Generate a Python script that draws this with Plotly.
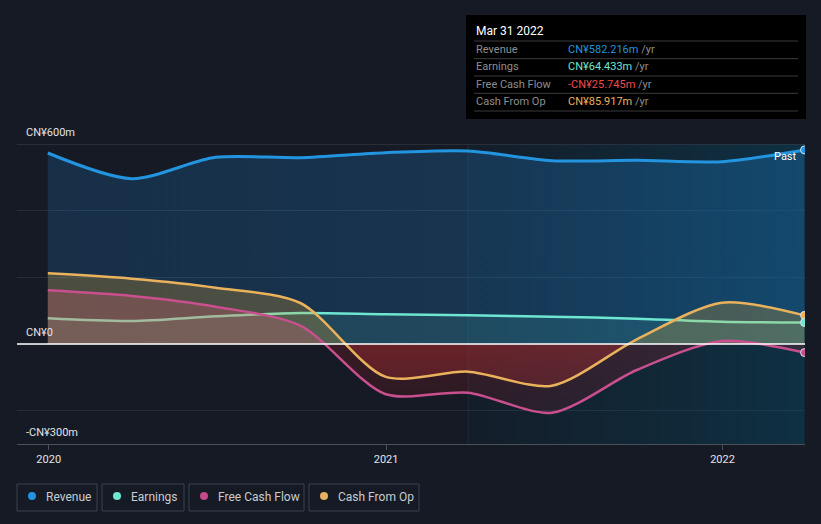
import plotly.graph_objects as go

# ---------------- data ----------------
dates = ["2019-12-31", "2020-03-31", "2020-06-30", "2020-09-30", "2020-12-31",
         "2021-03-31", "2021-06-30", "2021-09-30", "2021-12-31", "2022-03-31"]
revenue = [573, 496, 560, 559, 574, 579, 550, 551, 547, 582.216]
earnings = [77, 69, 83, 93, 89, 86, 82, 76, 67, 64.433]
free_cash_flow = [161, 144, 112, 55, -150, -146, -206, -78, 9, -25.745]
cash_from_op = [212, 196, 169, 123, -98, -83, -125, 14, 124, 85.917]

x_ticks = ["2020-01-01", "2021-01-01", "2022-01-01"]
x_tick_text = ["2020", "2021", "2022"]
y_grid = [-200, 0, 200, 400, 600]
y_labels = [(600, "CN¥600m"), (0, "CN¥0"), (-300, "-CN¥300m")]

tooltip_title = "Mar 31 2022"
tooltip_rows = [("Revenue", "CN¥582.216m", "#2394df"),
                ("Earnings", "CN¥64.433m", "#6ee6d2"),
                ("Free Cash Flow", "-CN¥25.745m", "#f04848"),
                ("Cash From Op", "CN¥85.917m", "#ebb25c")]
legend_items = [("Revenue", "#2394df"), ("Earnings", "#6ee6d2"),
                ("Free Cash Flow", "#c44a8c"), ("Cash From Op", "#e8b060")]

C_REV = "#2394df"
C_EARN = "#6ee6d2"
C_FCF = "#c94f8e"
C_CFO = "#ebb25c"
BG = "#151a24"

W, H = 821, 524
L, R, T, B = 17, 805, 144, 444
Y0, Y1 = -300, 600


def fx(px):
    return (px - L) / (R - L)


def fy(py):
    return (B - py) / (B - T)


fig = go.Figure()

# highlighted last-year region (background gradient)
hx0, hx1 = dates[5], dates[-1]
fig.add_trace(go.Scatter(
    x=[hx0, hx1, hx1, hx0, hx0], y=[Y0, Y0, Y1, Y1, Y0],
    mode="lines", line=dict(width=0), fill="toself",
    fillgradient=dict(type="horizontal",
                      colorscale=[[0, "rgba(5,70,100,0.08)"], [1, "rgba(5,80,110,0.42)"]]),
    hoverinfo="skip", showlegend=False))

# revenue
fig.add_trace(go.Scatter(
    x=dates, y=revenue, mode="lines",
    line=dict(color=C_REV, width=3, shape="spline", smoothing=0.8),
    fill="tozeroy",
    fillgradient=dict(type="horizontal",
                      colorscale=[[0, "rgba(33,150,243,0.17)"], [1, "rgba(33,150,243,0.24)"]]),
    hoverinfo="skip", showlegend=False))

p0 = (0 - Y0) / (Y1 - Y0)

# earnings
fig.add_trace(go.Scatter(
    x=dates, y=earnings, mode="lines",
    line=dict(color=C_EARN, width=2.5, shape="spline", smoothing=0.8),
    fill="tozeroy", fillcolor="rgba(100,220,200,0.12)",
    hoverinfo="skip", showlegend=False))

# free cash flow fill
fig.add_trace(go.Scatter(
    x=dates, y=free_cash_flow, mode="lines",
    line=dict(color="rgba(0,0,0,0)", width=0, shape="spline", smoothing=0.8),
    fill="tozeroy",
    fillgradient=dict(type="vertical", start=Y0, stop=Y1,
                      colorscale=[[0, "rgba(180,25,35,0.10)"], [p0 - 0.001, "rgba(180,25,35,0.22)"],
                                  [p0, "rgba(220,75,150,0.25)"], [1, "rgba(220,75,150,0.25)"]]),
    hoverinfo="skip", showlegend=False))

# cash from op fill
fig.add_trace(go.Scatter(
    x=dates, y=cash_from_op, mode="lines",
    line=dict(color="rgba(0,0,0,0)", width=0, shape="spline", smoothing=0.8),
    fill="tozeroy",
    fillgradient=dict(type="vertical", start=Y0, stop=Y1,
                      colorscale=[[0, "rgba(200,50,50,0.15)"], [p0 - 0.001, "rgba(205,50,50,0.32)"],
                                  [p0, "rgba(240,170,40,0.24)"], [1, "rgba(240,170,40,0.24)"]]),
    hoverinfo="skip", showlegend=False))

# lines on top
fig.add_trace(go.Scatter(
    x=dates, y=free_cash_flow, mode="lines",
    line=dict(color=C_FCF, width=2.5, shape="spline", smoothing=0.8),
    hoverinfo="skip", showlegend=False))
fig.add_trace(go.Scatter(
    x=dates, y=cash_from_op, mode="lines",
    line=dict(color=C_CFO, width=2.5, shape="spline", smoothing=0.8),
    hoverinfo="skip", showlegend=False))

# end markers
for series, col in [(cash_from_op, C_CFO), (free_cash_flow, C_FCF),
                    (earnings, C_EARN), (revenue, C_REV)]:
    fig.add_trace(go.Scatter(
        x=[dates[-1]], y=[series[-1]], mode="markers",
        marker=dict(size=8, color=col, line=dict(color="#d8e4ec", width=1)),
        hoverinfo="skip", showlegend=False))

shapes = []
annotations = []

# top grid line and zero line, vertical divider
shapes.append(dict(type="line", xref="paper", yref="y", x0=0, x1=1, y0=Y1, y1=Y1,
                   line=dict(color="#3c414b", width=1), layer="above"))
shapes.append(dict(type="line", xref="paper", yref="y", x0=0, x1=1, y0=0, y1=0,
                   line=dict(color="#ffffff", width=1.3), layer="above"))
shapes.append(dict(type="line", xref="x", yref="y", x0=hx0, x1=hx0, y0=Y0, y1=Y1,
                   line=dict(color="rgba(60,90,110,0.25)", width=1), layer="below"))

# y labels
for val, txt in y_labels:
    annotations.append(dict(xref="paper", yref="y", x=fx(24), y=val, yshift=3,
                            text=txt, showarrow=False, xanchor="left", yanchor="bottom",
                            font=dict(family="Roboto", size=11, color="#e2e4e8")))

# "Past" label
annotations.append(dict(xref="paper", yref="paper", x=fx(785), y=fy(156), text="Past",
                        showarrow=False, xanchor="center", yanchor="middle",
                        font=dict(family="Roboto", size=11, color="#ffffff")))

# tooltip box
shapes.append(dict(type="rect", xref="paper", yref="paper",
                   x0=fx(466), x1=fx(806), y0=fy(119), y1=fy(15),
                   fillcolor="#000000", line=dict(width=0), layer="above"))
for sy in [41, 58.7, 76, 93.3, 111]:
    shapes.append(dict(type="line", xref="paper", yref="paper",
                       x0=fx(474), x1=fx(798), y0=fy(sy), y1=fy(sy),
                       line=dict(color="#3a3a3a", width=1), layer="above"))
annotations.append(dict(xref="paper", yref="paper", x=fx(474), y=fy(31), text=tooltip_title,
                        showarrow=False, xanchor="left", yanchor="middle",
                        font=dict(family="Roboto", size=12, color="#ffffff")))
for i, (lab, val, col) in enumerate(tooltip_rows):
    ry = [49.5, 66.7, 84.3, 101.7][i]
    annotations.append(dict(xref="paper", yref="paper", x=fx(474), y=fy(ry), text=lab,
                            showarrow=False, xanchor="left", yanchor="middle",
                            font=dict(family="Roboto", size=11, color="#8e8e8e")))
    annotations.append(dict(xref="paper", yref="paper", x=fx(566), y=fy(ry),
                            text=f"<span style='color:{col}'>{val}</span> /yr",
                            showarrow=False, xanchor="left", yanchor="middle",
                            font=dict(family="Roboto", size=11, color="#8e8e8e")))

# custom legend
boxes = [(17, 97), (102, 184), (189, 304), (309, 419)]
for (bx0, bx1), (lab, col) in zip(boxes, legend_items):
    shapes.append(dict(type="rect", xref="paper", yref="paper",
                       x0=fx(bx0), x1=fx(bx1), y0=fy(511), y1=fy(484),
                       fillcolor="rgba(0,0,0,0)", line=dict(color="#3d434e", width=1)))
    cx = bx0 + 15
    shapes.append(dict(type="circle", xref="paper", yref="paper",
                       x0=fx(cx - 4), x1=fx(cx + 4), y0=fy(500), y1=fy(492),
                       fillcolor=col, line=dict(width=0)))
    annotations.append(dict(xref="paper", yref="paper", x=fx(bx0 + 27), y=fy(497), text=lab,
                            showarrow=False, xanchor="left", yanchor="middle",
                            font=dict(family="Roboto", size=12, color="#c8ccd2")))

fig.update_layout(
    width=W, height=H,
    margin=dict(l=L, r=W - R, t=T, b=H - B),
    paper_bgcolor=BG, plot_bgcolor=BG,
    showlegend=False,
    shapes=shapes, annotations=annotations,
    xaxis=dict(type="date", range=["2019-11-27 14:00", "2022-03-31 12:00"],
               tickvals=x_ticks, ticktext=x_tick_text,
               tickfont=dict(family="Roboto", size=11, color="#e2e4e8"),
               ticks="outside", ticklen=5, tickcolor="#4a505a",
               showgrid=False, zeroline=False,
               showline=True, linecolor="#4a505a", linewidth=1),
    yaxis=dict(range=[Y0, Y1], tickvals=y_grid, showticklabels=False,
               showgrid=True, gridcolor="#262d39", gridwidth=1,
               zeroline=False, showline=False),
)

fig.write_html("out.html")
